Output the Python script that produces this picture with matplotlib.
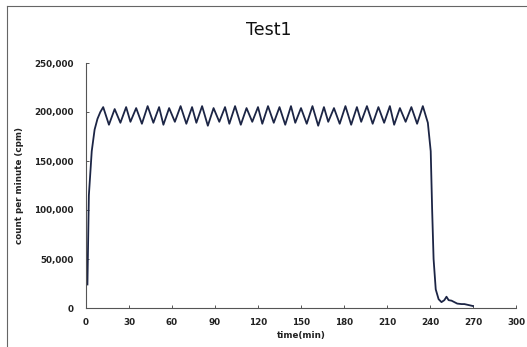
import matplotlib.pyplot as plt
from matplotlib.lines import Line2D
from matplotlib.ticker import FuncFormatter

# time (min) and counts per minute
minutes = [1, 2, 4, 6, 8, 10, 12,
           16, 20, 24, 28, 31, 35, 39, 43, 47, 51, 54, 58, 62, 66, 70, 74,
           77, 81, 85, 89, 93, 97, 100, 104, 108, 112, 116, 120, 123, 127,
           131, 135, 139, 143, 146, 150, 154, 158, 162, 166, 169, 173, 177,
           181, 185, 189, 192, 196, 200, 204, 208, 212, 215, 219, 223, 227,
           231, 235, 238.5, 240.5, 241.5, 242.5, 244, 246, 248, 250, 251.5,
           253, 255, 257, 259, 262, 264, 267, 270]
cpm = [24000, 115000, 160000, 182000, 193000, 200000, 205000,
       187000, 203000, 189000, 205000, 190000, 204000, 188000, 206000, 189000,
       205000, 187000, 204000, 190000, 206000, 188000, 205000,
       189000, 206000, 186000, 204000, 190000, 205000, 188000, 206000, 187000,
       204000, 190000, 205000, 188000, 206000, 189000, 205000, 187000, 206000,
       189000, 204000, 188000, 206000, 186000, 205000, 190000, 204000, 188000,
       206000, 187000, 205000, 190000, 206000, 188000, 205000, 189000, 206000,
       187000, 204000, 190000, 205000, 188000, 206000, 189000, 160000, 100000,
       50000, 19000, 9000, 6000, 8000, 11500, 8000, 7500, 6000, 4500, 4000,
       4000, 3000, 2000]

x_ticks = [0, 30, 60, 90, 120, 150, 180, 210, 240, 270, 300]
y_ticks = [0, 50000, 100000, 150000, 200000, 250000]

fig = plt.figure(figsize=(5.27, 3.47), dpi=100)
ax = fig.add_axes([86 / 527, 1 - 308 / 347, 430 / 527, 245 / 347])

ax.plot(minutes, cpm, color='#1c2545', linewidth=1.3, solid_joinstyle='round')

ax.set_xlim(0, 300)
ax.set_ylim(0, 250000)
ax.set_xticks(x_ticks)
ax.set_yticks(y_ticks)
ax.yaxis.set_major_formatter(FuncFormatter(lambda v, p: f'{int(v):,}'))

for s in ['top', 'right']:
    ax.spines[s].set_visible(False)
for s in ['left', 'bottom']:
    ax.spines[s].set_color('#555555')
    ax.spines[s].set_linewidth(0.8)

ax.tick_params(axis='x', direction='in', length=2.5, width=0.7, color='#555555',
               pad=7, labelsize=6.3)
ax.tick_params(axis='y', direction='in', length=2.5, width=0.7, color='#555555',
               pad=9, labelsize=6.3)
for lab in ax.get_xticklabels() + ax.get_yticklabels():
    lab.set_fontweight('bold')
    lab.set_color('#222222')

ax.set_xlabel('time(min)', fontsize=6.3, fontweight='bold', color='#222222', labelpad=3)
ax.set_ylabel('count per minute (cpm)', fontsize=6.3, fontweight='bold',
              color='#222222', labelpad=7)

fig.text(0.51, 1 - 30 / 347, 'Test1', ha='center', va='center', fontsize=12.5,
         fontweight='medium', color='#111111')

# frame edges of the cropped chart area
fig.add_artist(Line2D([7 / 527, 7 / 527], [0, 1 - 6 / 347], transform=fig.transFigure,
                      color='#666666', linewidth=0.8))
fig.add_artist(Line2D([7 / 527, 1], [1 - 6 / 347, 1 - 6 / 347], transform=fig.transFigure,
                      color='#666666', linewidth=0.8))

fig.savefig('out.png', dpi=100)
